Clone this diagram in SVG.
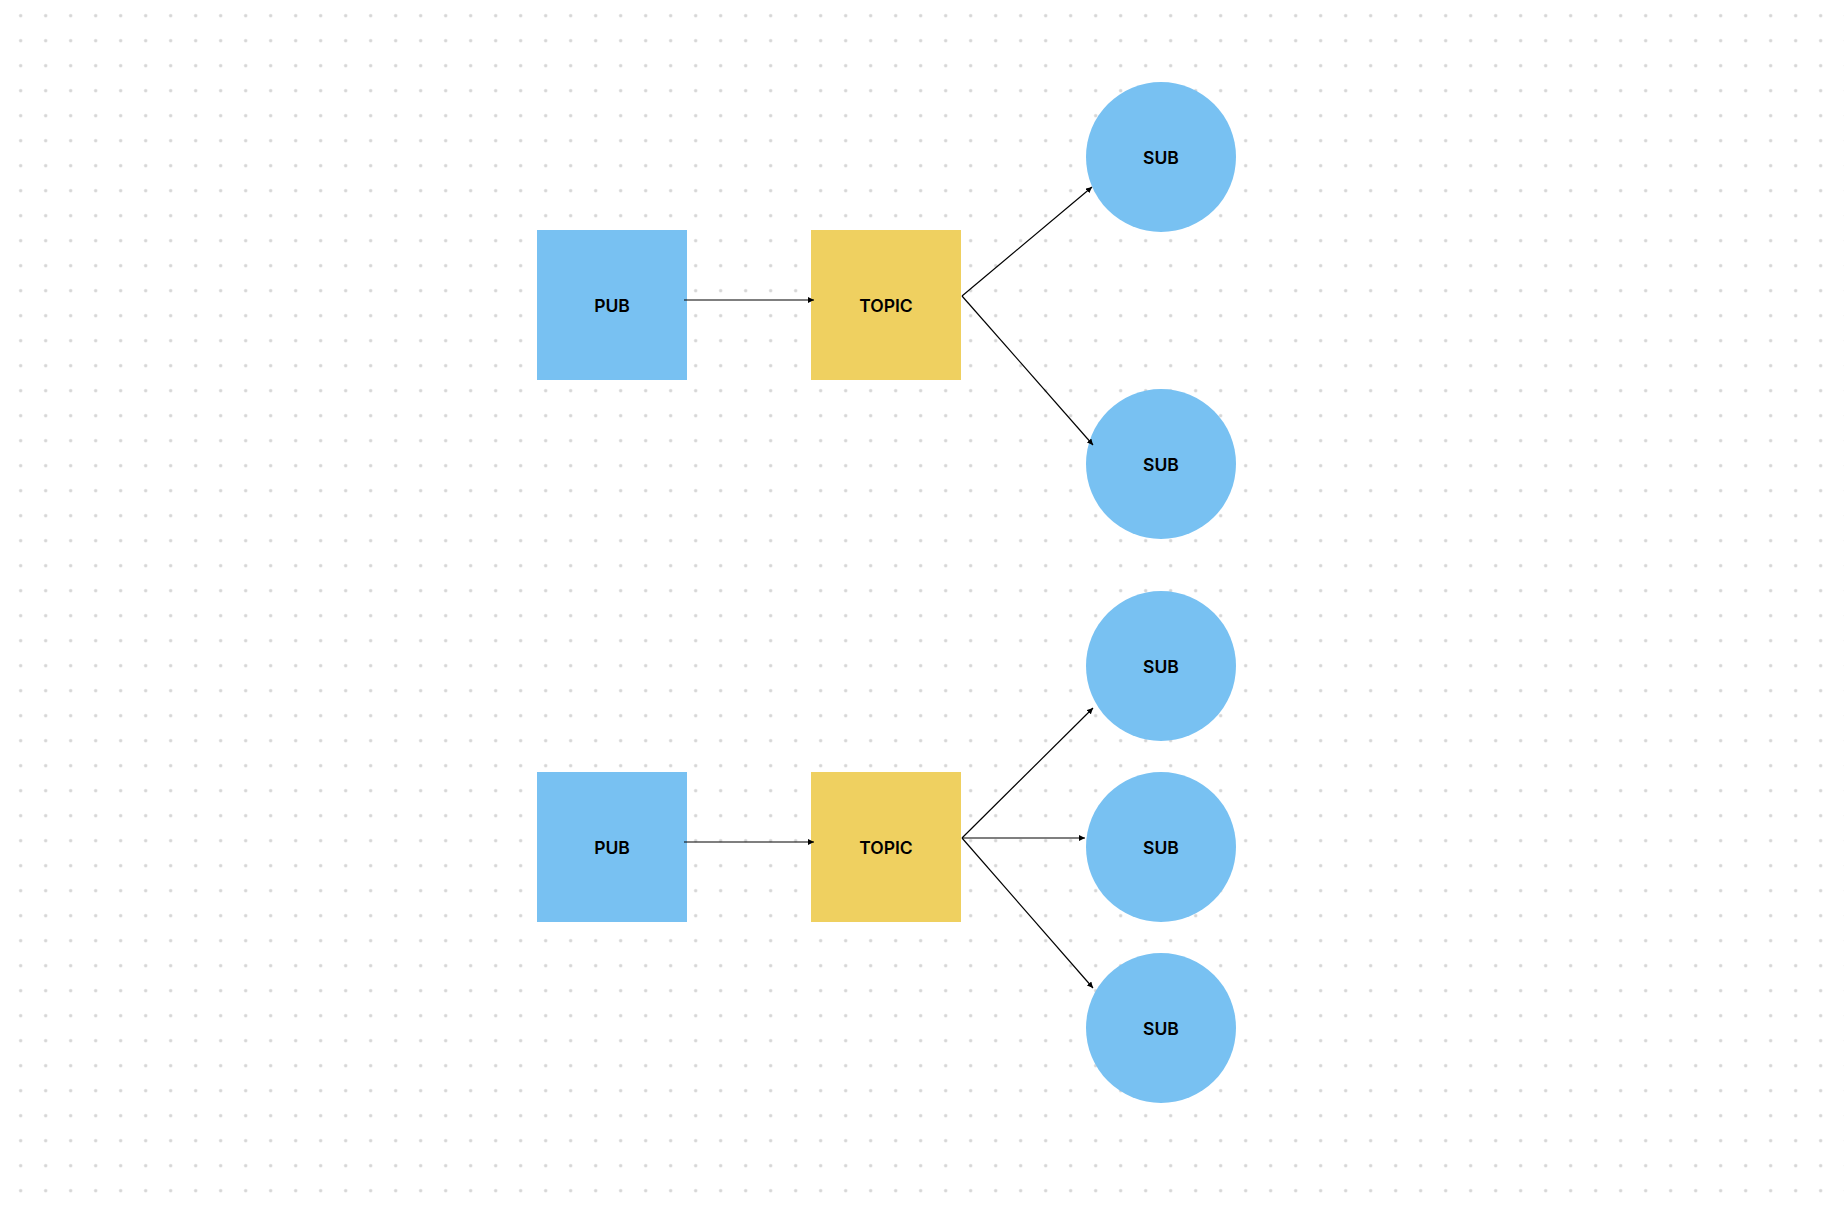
<svg xmlns="http://www.w3.org/2000/svg" width="1844" height="1210" viewBox="0 0 1844 1210">
  <defs>
    <pattern id="dots" x="8.2" y="3.2" width="25" height="25" patternUnits="userSpaceOnUse">
      <circle cx="12.5" cy="12.5" r="1.7" fill="#d6d6d6"/>
    </pattern>
    <marker id="arrow" viewBox="0 0 6 6" refX="6" refY="3" markerWidth="6" markerHeight="6" markerUnits="userSpaceOnUse" orient="auto">
      <path d="M0,0 L6,3 L0,6 z" fill="#000"/>
    </marker>
  </defs>
  <style>
    .pub { fill: #78C1F2; }
    .topic { fill: #EFD060; }
    .sub { fill: #78C1F2; }
    .label { font-family: Inter, "Liberation Sans", sans-serif; font-size: 17.5px; font-weight: 600; fill: #000; text-anchor: middle; }
    .edge { stroke: #000; stroke-width: 1.2; fill: none; marker-end: url(#arrow); }
  </style>
  <rect width="1844" height="1210" fill="#ffffff"/>
  <rect width="1844" height="1210" fill="url(#dots)"/>

  <g id="pub1"><rect class="pub" x="537" y="230" width="150" height="150"/><text class="label" x="612" y="312">PUB</text></g>
  <g id="topic1"><rect class="topic" x="811" y="230" width="150" height="150"/><text class="label" x="886" y="312">TOPIC</text></g>
  <g id="sub1"><circle class="sub" cx="1161" cy="157" r="75"/><text class="label" x="1161" y="164">SUB</text></g>
  <g id="sub2"><circle class="sub" cx="1161" cy="464" r="75"/><text class="label" x="1161" y="471">SUB</text></g>

  <g id="pub2"><rect class="pub" x="537" y="772" width="150" height="150"/><text class="label" x="612" y="854">PUB</text></g>
  <g id="topic2"><rect class="topic" x="811" y="772" width="150" height="150"/><text class="label" x="886" y="854">TOPIC</text></g>
  <g id="sub3"><circle class="sub" cx="1161" cy="666" r="75"/><text class="label" x="1161" y="673">SUB</text></g>
  <g id="sub4"><circle class="sub" cx="1161" cy="847" r="75"/><text class="label" x="1161" y="854">SUB</text></g>
  <g id="sub5"><circle class="sub" cx="1161" cy="1028" r="75"/><text class="label" x="1161" y="1035">SUB</text></g>

  <g id="connectors">
    <line class="edge" x1="684" y1="300" x2="814" y2="300"/>
    <line class="edge" x1="962" y1="296" x2="1092" y2="187"/>
    <line class="edge" x1="962" y1="296" x2="1093" y2="445"/>
    <line class="edge" x1="684" y1="842" x2="814" y2="842"/>
    <line class="edge" x1="962" y1="838" x2="1093" y2="708"/>
    <line class="edge" x1="962" y1="838" x2="1085" y2="838"/>
    <line class="edge" x1="962" y1="838" x2="1093" y2="988"/>
  </g>
</svg>
